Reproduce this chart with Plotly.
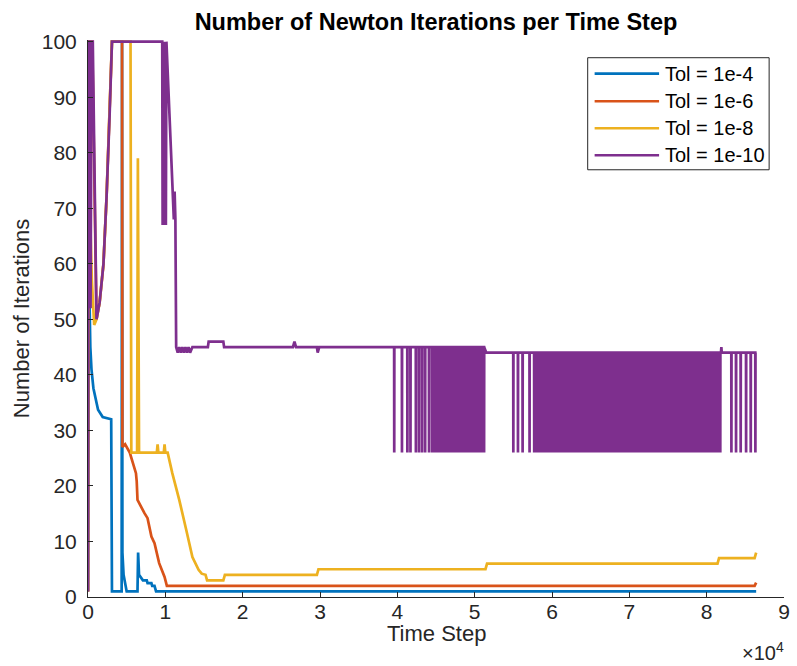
import plotly.graph_objects as go

# ---------------------------------------------------------------- data
SERIES_NAMES = ["Tol = 1e-4", "Tol = 1e-6", "Tol = 1e-8", "Tol = 1e-10"]
COLORS = ["#0072BD", "#D95319", "#EDB120", "#7E2F8E"]

X_TICK_VALUES = [0, 10000, 20000, 30000, 40000, 50000, 60000, 70000, 80000, 90000]
X_TICK_TEXT = ["0", "1", "2", "3", "4", "5", "6", "7", "8", "9"]
Y_TICK_VALUES = [0, 10, 20, 30, 40, 50, 60, 70, 80, 90, 100]

# Tol = 1e-4
tol4_step = [0, 120, 200, 300, 450, 700, 1300, 1900, 3000, 3100, 4350, 4400, 4450,
             4600, 4900, 5000, 6400, 6480, 6600, 6800, 7100, 7600, 7700, 8200,
             8300, 8600, 8800, 86400]
tol4_iter = [1, 68, 53, 45, 41, 37.6, 33.7, 32.4, 32, 1, 1, 100, 8,
             4, 1.2, 1, 1, 8, 4, 3.5, 3, 3, 2.5, 2.5,
             2, 2, 1, 1]

# Tol = 1e-6
tol6_step = [0, 50, 550, 1100, 1500, 2000, 2400, 2800, 3100, 4400, 4450, 4800,
             5400, 6200, 6300, 6400, 6500, 7300, 7700, 8200, 8600, 9200, 9900,
             10200, 86200, 86400]
tol6_iter = [1, 100, 100, 50, 53, 60, 72, 87, 100, 100, 27, 27.5,
             26, 22.3, 20.8, 17.5, 17.2, 15.1, 14.2, 10.9, 9.7, 6.1, 3.6,
             2, 2, 2.6]

# Tol = 1e-8
tol8_step = [0, 40, 90, 250, 500, 800, 1100, 1500, 2000, 2400, 2800, 3100, 5500,
             5600, 6350, 6450, 6600, 8900, 9000, 9100, 9800, 9900, 10000, 10300,
             10900, 11800, 12700, 13500, 14300, 14700, 15200, 15400, 17500, 17700,
             29600, 29800, 51400, 51600, 81400, 81600, 86200, 86400]
tol8_iter = [1, 100, 75, 70, 57, 49, 50, 53, 60, 72, 87, 100, 100,
             26, 26, 79, 26, 26, 27.5, 26, 26, 27.5, 26, 26,
             22.3, 17.5, 12.1, 7.2, 4.9, 4.2, 4, 3, 3, 4,
             4, 5, 5, 6, 6, 7, 7, 8]

# Tol = 1e-10: start-up transient and plateau
tol10_step = [0, 50, 180, 330, 470, 620, 1100, 1500, 2000, 2400, 2800, 3100, 9600,
              9650, 9720, 9790, 9860, 9930, 10000, 10070, 10140, 11000, 11100,
              11200, 11300, 11400, 11600, 11800, 12000, 12200, 12400, 12600,
              12800, 13000, 13200, 13500, 15500, 15600, 17500, 17600, 26500,
              26700, 26900, 29600, 29700, 29900, 39400]
tol10_iter = [1, 100, 100, 52, 100, 100, 50, 53, 60, 72, 87, 100, 100,
              67, 100, 67, 100, 67, 100, 67, 100, 73, 68,
              73, 68, 45, 44, 45, 44, 45, 44, 45,
              44, 45, 44, 45, 45, 46, 46, 45, 45,
              46, 45, 45, 44, 45, 45]

# Tol = 1e-10: steps where the count drops to the low level
tol10_low = 26
tol10_dips_a = [39600, 40600, 41300, 41700, 42400, 42800, 43200, 43600, 44100]
tol10_top_a = 45
tol10_dips_b = [55000, 55600, 56200, 57100, 57700]
tol10_dips_c = [83200, 83800, 84400, 85100, 85700, 86300]
tol10_top_bc = 44
# intervals where the count alternates continuously: (first step, last step, upper level)
tol10_alternating = [(44500, 51300, 45), (58000, 81800, 44)]
tol10_alternation_period = 120
tol10_bump_step = [81850, 81900, 81950]
tol10_bump_iter = [44, 45, 44]
tol10_last_step = 86400


def add_dips(steps, iters, dip_steps, top):
    for s in dip_steps:
        steps += [s - 15, s, s + 15]
        iters += [top, tol10_low, top]


purple_x = list(tol10_step)
purple_y = list(tol10_iter)
add_dips(purple_x, purple_y, tol10_dips_a, tol10_top_a)
first, last, top = tol10_alternating[0]
add_dips(purple_x, purple_y, list(range(first, last + 1, tol10_alternation_period)), top)
purple_x += [51500]
purple_y += [tol10_top_bc]
add_dips(purple_x, purple_y, tol10_dips_b, tol10_top_bc)
first, last, top = tol10_alternating[1]
add_dips(purple_x, purple_y, list(range(first, last + 1, tol10_alternation_period)), top)
purple_x += tol10_bump_step
purple_y += tol10_bump_iter
add_dips(purple_x, purple_y, tol10_dips_c, tol10_top_bc)
purple_x += [tol10_last_step]
purple_y += [tol10_top_bc]

series = [
    (tol4_step, tol4_iter),
    (tol6_step, tol6_iter),
    (tol8_step, tol8_iter),
    (purple_x, purple_y),
]

# ---------------------------------------------------------------- figure
FONT = "Liberation Sans, Arial, sans-serif"
AXIS_COLOR = "#262626"
W, H = 797, 666
M_L, M_R, M_T, M_B = 88, 7, 40.3, 69
Y_MAX = 100.3
LINE_W = 2.7

fig = go.Figure()
for (xs, ys), name, color in zip(series, SERIES_NAMES, COLORS):
    fig.add_trace(go.Scatter(x=xs, y=ys, mode="lines", name=name,
                             line=dict(color=color, width=LINE_W),
                             showlegend=False, hoverinfo="skip"))

fig.update_layout(
    width=W, height=H,
    margin=dict(l=M_L, r=M_R, t=M_T, b=M_B),
    paper_bgcolor="white", plot_bgcolor="white",
    font=dict(family=FONT, color=AXIS_COLOR, size=21),
    title=dict(text="<b>Number of Newton Iterations per Time Step</b>",
               x=0.5, xref="paper", xanchor="center",
               y=1 - 22 / H, yref="container", yanchor="middle",
               font=dict(size=23.5, color="black")),
    xaxis=dict(range=[0, 90000], tickvals=X_TICK_VALUES, ticktext=X_TICK_TEXT,
               showgrid=False, zeroline=False, showline=True, linecolor=AXIS_COLOR,
               linewidth=1, ticks="inside", ticklen=5, tickcolor=AXIS_COLOR,
               tickfont=dict(size=21), ticklabelstandoff=-4),
    yaxis=dict(range=[0, Y_MAX], tickvals=Y_TICK_VALUES,
               showgrid=False, zeroline=False, showline=True, linecolor=AXIS_COLOR,
               linewidth=1, ticks="inside", ticklen=5, tickcolor=AXIS_COLOR,
               tickfont=dict(size=21), ticklabelstandoff=6,
               title=dict(text="Number of Iterations", font=dict(size=22), standoff=6)),
)

plot_h = H - M_T - M_B
plot_w = W - M_L - M_R


def px_x(px):
    return (px - M_L) / plot_w


def px_y(py):
    return (H - M_B - py) / plot_h


# x axis title, set just under the tick labels
fig.add_annotation(text="Time Step", xref="paper", yref="paper",
                   x=0.5, y=px_y(633), xanchor="center", yanchor="middle",
                   showarrow=False, font=dict(size=22, color=AXIS_COLOR))

# exponent label of the x axis
fig.add_annotation(text="×10<sup>4</sup>", xref="paper", yref="paper",
                   x=px_x(792), y=px_y(651), xanchor="right", yanchor="middle",
                   showarrow=False, font=dict(size=20, color=AXIS_COLOR))

# legend box in the upper right corner
fig.add_shape(type="rect", xref="paper", yref="paper",
              x0=px_x(592), x1=px_x(775), y0=px_y(170), y1=px_y(58),
              line=dict(color=AXIS_COLOR, width=1), fillcolor="white")
entry_rows = [74, 101.5, 128.5, 155.5]
for row, name, color in zip(entry_rows, SERIES_NAMES, COLORS):
    fig.add_shape(type="line", xref="paper", yref="paper",
                  x0=px_x(599), x1=px_x(664), y0=px_y(row), y1=px_y(row),
                  line=dict(color=color, width=LINE_W))
    fig.add_annotation(text=name, xref="paper", yref="paper",
                       x=px_x(668), y=px_y(row), xanchor="left", yanchor="middle",
                       showarrow=False, font=dict(size=20, color="black"))

fig.write_html("out.html")
